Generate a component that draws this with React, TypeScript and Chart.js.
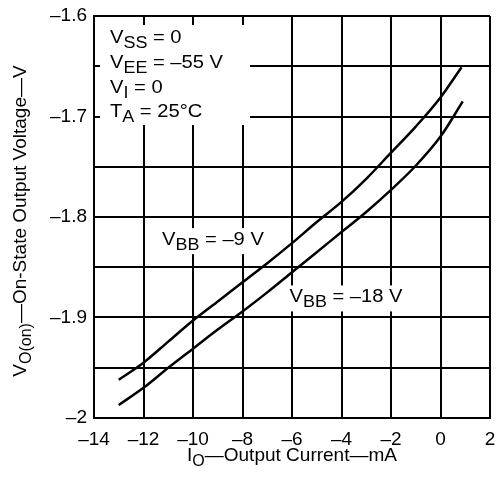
import React, { useEffect, useRef } from "react";
import { Chart, registerables } from "chart.js";

Chart.register(...registerables);

// Data
const ioVbb9 = [-13.0, -12, -11, -10, -9, -8, -7, -6, -5, -4, -3, -2, -1, 0, 0.85];
const voVbb9 = [-1.962, -1.945, -1.924, -1.903, -1.884, -1.865, -1.846, -1.826, -1.805, -1.785, -1.762, -1.736, -1.71, -1.681, -1.651];
const ioVbb18 = [-13.0, -12, -11, -10, -9, -8, -7, -6, -5, -4, -3, -2, -1, 0, 0.9];
const voVbb18 = [-1.987, -1.97, -1.95, -1.931, -1.912, -1.894, -1.875, -1.855, -1.835, -1.815, -1.795, -1.773, -1.749, -1.72, -1.685];

const xMin = -14;
const xMax = 2;
const xStep = 2;
const yMin = -2;
const yMax = -1.6;
const yStep = 0.05;

const FONT = "'Liberation Sans', Arial, Helvetica, sans-serif";

type Seg = { t: string; sub?: boolean };

const conditionLines: Seg[][] = [
  [{ t: "V" }, { t: "SS", sub: true }, { t: " = 0" }],
  [{ t: "V" }, { t: "EE", sub: true }, { t: " = \u201355 V" }],
  [{ t: "V" }, { t: "I", sub: true }, { t: " = 0" }],
  [{ t: "T" }, { t: "A", sub: true }, { t: " = 25\u00B0C" }],
];
const label9: Seg[] = [{ t: "V" }, { t: "BB", sub: true }, { t: " = \u20139 V" }];
const label18: Seg[] = [{ t: "V" }, { t: "BB", sub: true }, { t: " = \u201318 V" }];
const xTitle: Seg[] = [{ t: "I" }, { t: "O", sub: true }, { t: "\u2014Output Current\u2014mA" }];
const yTitle: Seg[] = [{ t: "V" }, { t: "O(on)", sub: true }, { t: "\u2014On-State Output Voltage\u2014V" }];

type Style = { main: number; sub: number; dy: number; sx: number };
const ANNOT: Style = { main: 18, sub: 16, dy: 5, sx: 1.12 };
const TITLE: Style = { main: 19, sub: 16, dy: 5, sx: 1 };

function measureRich(ctx: CanvasRenderingContext2D, segs: Seg[], st: Style) {
  let w = 0;
  for (const s of segs) {
    ctx.font = `${s.sub ? st.sub : st.main}px ${FONT}`;
    w += ctx.measureText(s.t).width;
  }
  return w * st.sx;
}

function drawRich(ctx: CanvasRenderingContext2D, segs: Seg[], x: number, y: number, st: Style) {
  ctx.save();
  ctx.translate(x, y);
  ctx.scale(st.sx, 1);
  ctx.textBaseline = "alphabetic";
  ctx.textAlign = "left";
  ctx.fillStyle = "#000";
  let cx = 0;
  for (const s of segs) {
    ctx.font = `${s.sub ? st.sub : st.main}px ${FONT}`;
    ctx.fillText(s.t, cx, s.sub ? st.dy : 0);
    cx += ctx.measureText(s.t).width;
  }
  ctx.restore();
}

const annotPlugin = {
  id: "annot",
  beforeDatasetsDraw(chart: any) {
    const ctx = chart.ctx as CanvasRenderingContext2D;
    const xs = chart.scales.x;
    const ys = chart.scales.y;
    ctx.save();
    ctx.fillStyle = "#fff";
    // conditions box
    ctx.fillRect(xs.left + 6, ys.top + 9, 150, 100);
    // curve labels
    const x9 = xs.getPixelForValue(-11.25);
    const y9 = ys.getPixelForValue(-1.828);
    const w9 = measureRich(ctx, label9, ANNOT);
    ctx.fillStyle = "#fff";
    ctx.fillRect(x9 - 4, y9 - 17, w9 + 8, 26);
    const x18 = xs.getPixelForValue(-6.1);
    const y18 = ys.getPixelForValue(-1.885);
    const w18 = measureRich(ctx, label18, ANNOT);
    ctx.fillStyle = "#fff";
    ctx.fillRect(x18 - 4, y18 - 17, w18 + 8, 26);

    const lx = xs.left + 16;
    const baselines = [43, 68, 93, 117];
    conditionLines.forEach((l, i) => drawRich(ctx, l, lx, baselines[i], ANNOT));
    drawRich(ctx, label9, x9, y9, ANNOT);
    drawRich(ctx, label18, x18, y18, ANNOT);

    // x title
    const wx = measureRich(ctx, xTitle, TITLE);
    drawRich(ctx, xTitle, (xs.left + xs.right) / 2 - wx / 2, 461, TITLE);
    // y title
    const wy = measureRich(ctx, yTitle, TITLE);
    ctx.translate(26, (ys.top + ys.bottom) / 2 + 4);
    ctx.rotate(-Math.PI / 2);
    drawRich(ctx, yTitle, -wy / 2, 0, TITLE);
    ctx.restore();
  },
};

function fmt(v: number) {
  const s = String(Math.round(Math.abs(v) * 10) / 10);
  return (v < 0 ? "\u2013" : "") + s;
}

export default function App() {
  const ref = useRef<HTMLCanvasElement | null>(null);
  useEffect(() => {
    document.body.style.margin = "0";
    const canvas = ref.current!;
    const chart = new Chart(canvas, {
      type: "line",
      data: {
        datasets: [
          {
            label: "VBB = -9 V",
            data: ioVbb9.map((x, i) => ({ x, y: voVbb9[i] })),
            borderColor: "#000",
            borderWidth: 2.5,
            pointRadius: 0,
            cubicInterpolationMode: "monotone",
            fill: false,
          },
          {
            label: "VBB = -18 V",
            data: ioVbb18.map((x, i) => ({ x, y: voVbb18[i] })),
            borderColor: "#000",
            borderWidth: 2.5,
            pointRadius: 0,
            cubicInterpolationMode: "monotone",
            fill: false,
          },
        ],
      },
      options: {
        animation: false,
        responsive: false,
        devicePixelRatio: 1,
        layout: { padding: { top: 16, right: 14, left: 0, bottom: 0 } },
        plugins: { legend: { display: false }, tooltip: { enabled: false } },
        scales: {
          x: {
            type: "linear",
            min: xMin,
            max: xMax,
            border: { display: true, color: "#000", width: 2 },
            grid: { color: "#000", lineWidth: 2, drawTicks: false },
            ticks: {
              stepSize: xStep,
              color: "#000",
              padding: 10,
              maxRotation: 0,
              autoSkip: false,
              font: { family: FONT, size: 19 },
              callback: (v: any) => fmt(Number(v)),
            },
            afterFit: (s: any) => {
              s.height = 59;
              s.paddingLeft = 0;
              s.paddingRight = 0;
            },
          },
          y: {
            type: "linear",
            min: yMin,
            max: yMax,
            border: { display: true, color: "#000", width: 2 },
            grid: { color: "#000", lineWidth: 2, drawTicks: false },
            ticks: {
              stepSize: yStep,
              color: "#000",
              padding: 7,
              autoSkip: false,
              font: { family: FONT, size: 19 },
              callback: (v: any) => {
                const n = Math.round(Number(v) * 100);
                return n % 10 === 0 ? fmt(Number(v)) : "";
              },
            },
            afterFit: (s: any) => {
              s.width = 94;
              s.paddingTop = 0;
              s.paddingBottom = 0;
            },
          },
        },
      },
      plugins: [annotPlugin],
    } as any);
    return () => chart.destroy();
  }, []);
  return <canvas ref={ref} width={504} height={477} style={{ display: "block" }} />;
}
